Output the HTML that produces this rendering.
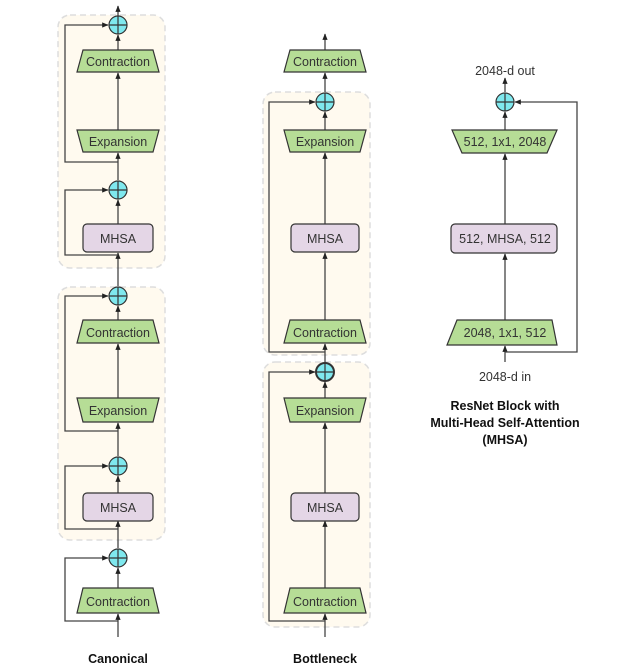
<!DOCTYPE html>
<html><head><meta charset="utf-8"><style>
html,body{margin:0;padding:0;background:#fff;width:639px;height:665px;overflow:hidden}
svg text{font-family:"Liberation Sans",sans-serif;}
</style></head><body>
<svg width="639" height="665" viewBox="0 0 639 665" xmlns="http://www.w3.org/2000/svg">
<defs>
<marker id="a" viewBox="0 0 10 10" refX="9" refY="5" markerWidth="5" markerHeight="5" orient="auto"><path d="M0,1 L10,5 L0,9 z" fill="#222"/></marker>
</defs>
<g fill="#fffaef" stroke="#ddd" stroke-width="1.5" stroke-dasharray="6,4">
<rect x="58" y="15" width="107" height="253" rx="12"/>
<rect x="58" y="287" width="107" height="253" rx="12"/>
<rect x="263" y="92" width="107" height="263" rx="12"/>
<rect x="263" y="362" width="107" height="265" rx="12"/>
</g>
<g stroke="#444" stroke-width="1.3" fill="none" marker-end="url(#a)">
<!-- canonical main -->
<line x1="118" y1="16" x2="118" y2="6"/>
<line x1="118" y1="50" x2="118" y2="35"/>
<line x1="118" y1="130" x2="118" y2="73"/>
<line x1="118" y1="180" x2="118" y2="153"/>
<line x1="118" y1="224" x2="118" y2="200"/>
<line x1="118" y1="286" x2="118" y2="253"/>
<line x1="118" y1="320" x2="118" y2="306"/>
<line x1="118" y1="398" x2="118" y2="344"/>
<line x1="118" y1="456" x2="118" y2="423"/>
<line x1="118" y1="493" x2="118" y2="476"/>
<line x1="118" y1="548" x2="118" y2="521"/>
<line x1="118" y1="588" x2="118" y2="568"/>
<line x1="118" y1="637" x2="118" y2="614"/>
<polyline points="118,162 65,162 65,25 108,25"/>
<polyline points="118,255 65,255 65,190 108,190"/>
<polyline points="118,431 65,431 65,296 108,296"/>
<polyline points="118,529 65,529 65,466 108,466"/>
<polyline points="118,621 65,621 65,558 108,558"/>
<!-- bottleneck -->
<line x1="325" y1="50" x2="325" y2="34"/>
<line x1="325" y1="92" x2="325" y2="73"/>
<line x1="325" y1="130" x2="325" y2="112"/>
<line x1="325" y1="224" x2="325" y2="153"/>
<line x1="325" y1="320" x2="325" y2="253"/>
<line x1="325" y1="362" x2="325" y2="344"/>
<line x1="325" y1="398" x2="325" y2="382"/>
<line x1="325" y1="493" x2="325" y2="423"/>
<line x1="325" y1="588" x2="325" y2="521"/>
<line x1="325" y1="637" x2="325" y2="614"/>
<polyline points="325,352 269,352 269,102 315,102"/>
<polyline points="325,621 269,621 269,372 315,372"/>
<!-- right -->
<line x1="505" y1="92" x2="505" y2="78"/>
<line x1="505" y1="130" x2="505" y2="112"/>
<line x1="505" y1="224" x2="505" y2="154"/>
<line x1="505" y1="320" x2="505" y2="254"/>
<line x1="505" y1="362" x2="505" y2="346"/>
<polyline points="505,352 577,352 577,102 515,102"/>
</g>
<!-- shapes -->
<g stroke="#333" stroke-width="1.2" fill="#b6dd96">
<polygon points="83,50 153,50 159,72 77,72"/>
<polygon points="77,130 159,130 153,152 83,152"/>
<polygon points="83,320 153,320 159,343 77,343"/>
<polygon points="77,398 159,398 153,422 83,422"/>
<polygon points="83,588 153,588 159,613 77,613"/>
<polygon points="290,50 360,50 366,72 284,72"/>
<polygon points="284,130 366,130 360,152 290,152"/>
<polygon points="290,320 360,320 366,343 284,343"/>
<polygon points="284,398 366,398 360,422 290,422"/>
<polygon points="290,588 360,588 366,613 284,613"/>
<polygon points="452,130 557,130 547,153 462,153"/>
<polygon points="457,320 552,320 557,345 447,345"/>
</g>
<g stroke="#333" stroke-width="1.2" fill="#e4d6e6">
<rect x="83" y="224" width="70" height="28" rx="4"/>
<rect x="83" y="493" width="70" height="28" rx="4"/>
<rect x="291" y="493" width="68" height="28" rx="4"/>
<rect x="291" y="224" width="68" height="28" rx="4"/>
<rect x="451" y="224" width="106" height="29" rx="4"/>
</g>
<g stroke="#333" stroke-width="1.2" fill="#7fe8ee">
<circle cx="118" cy="25" r="9"/><circle cx="118" cy="190" r="9"/>
<circle cx="118" cy="296" r="9"/><circle cx="118" cy="466" r="9"/><circle cx="118" cy="558" r="9"/>
<circle cx="325" cy="102" r="9"/><circle cx="325" cy="372" r="9" stroke-width="2"/>
<circle cx="505" cy="102" r="9"/>
</g>
<g stroke="#333" stroke-width="1.2">
<path d="M109,25H127M118,16V34M109,190H127M118,181V199M109,296H127M118,287V305M109,466H127M118,457V475M109,558H127M118,549V567M316,102H334M325,93V111M316,372H334M325,363V381M496,102H514M505,93V111"/>
</g>
<g font-size="12.5" fill="#333" text-anchor="middle">
<text x="118" y="66">Contraction</text><text x="118" y="146">Expansion</text>
<text x="118" y="337">Contraction</text><text x="118" y="415">Expansion</text>
<text x="118" y="606">Contraction</text>
<text x="325" y="66">Contraction</text><text x="325" y="146">Expansion</text>
<text x="325" y="337">Contraction</text><text x="325" y="415">Expansion</text>
<text x="325" y="606">Contraction</text>
<text x="118" y="243">MHSA</text><text x="118" y="512">MHSA</text>
<text x="325" y="243">MHSA</text><text x="325" y="512">MHSA</text>
<text x="505" y="146">512, 1x1, 2048</text>
<text x="505" y="243">512, MHSA, 512</text>
<text x="505" y="337">2048, 1x1, 512</text>
<text x="505" y="75">2048-d out</text>
<text x="505" y="381">2048-d in</text>
</g>
<g font-size="12.5" font-weight="bold" fill="#111" text-anchor="middle">
<text x="118" y="663">Canonical</text>
<text x="325" y="663">Bottleneck</text>
<text x="505" y="410">ResNet Block with</text>
<text x="505" y="427">Multi-Head Self-Attention</text>
<text x="505" y="444">(MHSA)</text>
</g>
</svg>
</body></html>
